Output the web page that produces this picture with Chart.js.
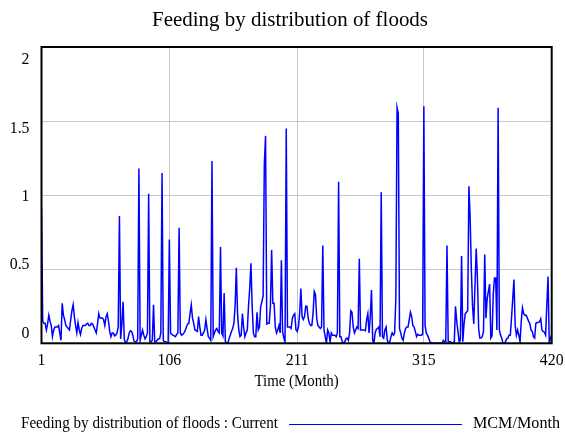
<!DOCTYPE html>
<html>
<head>
<meta charset="utf-8">
<script src="https://cdn.jsdelivr.net/npm/chart.js@4/dist/chart.umd.min.js"></script>
<style>
  html, body { margin: 0; padding: 0; background: #fff; }
  #contenedor { width: 565px; height: 437px; position: relative; }
</style>
</head>
<body>
<div id="contenedor"><canvas id="grafica_inundaciones"></canvas></div>
<script>
const titulo = "Feeding by distribution of floods";
const etiqueta_serie = "Feeding by distribution of floods : Current";
const unidades = "MCM/Month";
const titulo_x = "Time (Month)";
const ticks_x = [1, 106, 211, 315, 420];
const ticks_y = [2, 1.5, 1, 0.5, 0];

// meses 1..420
const meses = Array.from({ length: 420 }, (_, i) => i + 1);

// valores, 20 por renglon
const valores = [
  0.92, 0.15, 0.135, 0.135, 0.09, 0.13, 0.19, 0.15, 0.12, 0.045, 0.09, 0.11, 0.11, 0.11, 0.12, 0.07, 0.02, 0.27, 0.19, 0.16,
  0.12, 0.11, 0.10, 0.09, 0.16, 0.22, 0.26, 0.18, 0.12, 0.07, 0.14, 0.09, 0.06, 0.10, 0.12, 0.12, 0.12, 0.13, 0.135, 0.12,
  0.12, 0.135, 0.13, 0.11, 0.09, 0.07, 0.13, 0.20, 0.17, 0.17, 0.17, 0.16, 0.12, 0.18, 0.20, 0.15, 0.08, 0.045, 0.07, 0.07,
  0.05, 0.055, 0.07, 0.11, 0.86, 0.03, 0.13, 0.28, 0.03, 0.0, 0.01, 0.03, 0.07, 0.085, 0.08, 0.055, 0.015, 0.01, 0.01, 0.03,
  1.18, 0.02, 0.055, 0.09, 0.055, 0.03, 0.045, 0.07, 1.01, 0.01, 0.01, 0.02, 0.26, 0.01, 0.01, 0.02, 0.03, 0.03, 0.07, 1.15,
  0.02, 0.01, 0.01, 0.005, 0.0, 0.70, 0.07, 0.06, 0.055, 0.05, 0.045, 0.06, 0.07, 0.78, 0.07, 0.055, 0.06, 0.07, 0.085, 0.11,
  0.13, 0.135, 0.20, 0.26, 0.17, 0.135, 0.09, 0.085, 0.08, 0.18, 0.11, 0.055, 0.055, 0.07, 0.09, 0.16, 0.10, 0.045, 0.035, 0.02,
  1.23, 0.045, 0.07, 0.09, 0.10, 0.08, 0.07, 0.65, 0.07, 0.05, 0.34, 0.01, 0.005, 0.0, 0.03, 0.055, 0.08, 0.10, 0.135, 0.25,
  0.51, 0.20, 0.09, 0.045, 0.055, 0.20, 0.11, 0.045, 0.07, 0.09, 0.25, 0.37, 0.54, 0.25, 0.07, 0.045, 0.045, 0.21, 0.09, 0.11,
  0.25, 0.28, 0.32, 1.21, 1.40, 0.13, 0.135, 0.135, 0.25, 0.63, 0.27, 0.27, 0.11, 0.07, 0.09, 0.12, 0.07, 0.56, 0.08, 0.035,
  0.01, 1.45, 0.11, 0.11, 0.11, 0.10, 0.17, 0.19, 0.20, 0.09, 0.08, 0.11, 0.20, 0.37, 0.18, 0.16, 0.18, 0.25, 0.25, 0.17,
  0.135, 0.12, 0.12, 0.20, 0.35, 0.33, 0.17, 0.12, 0.11, 0.10, 0.11, 0.66, 0.09, 0.045, 0.0, 0.09, 0.07, 0.01, 0.07, 0.055,
  0.055, 0.055, 0.045, 0.07, 1.09, 0.045, 0.045, 0.01, 0.0, 0.01, 0.03, 0.035, 0.02, 0.07, 0.22, 0.21, 0.11, 0.07, 0.09, 0.11,
  0.10, 0.57, 0.09, 0.09, 0.09, 0.09, 0.085, 0.16, 0.20, 0.07, 0.18, 0.36, 0.02, 0.0, 0.07, 0.095, 0.10, 0.11, 0.045, 1.02,
  0.045, 0.035, 0.09, 0.11, 0.02, 0.0, 0.01, 0.045, 0.07, 0.055, 0.07, 0.30, 1.59, 1.55, 0.10, 0.07, 0.035, 0.02, 0.07, 0.10,
  0.11, 0.11, 0.16, 0.21, 0.18, 0.12, 0.11, 0.08, 0.045, 0.06, 0.055, 0.055, 0.055, 0.06, 1.60, 0.12, 0.07, 0.055, 0.035, 0.01,
  0.005, 0.0, 0.0, 0.0, 0.0, 0.0, 0.0, 0.0, 0.0, 0.0, 0.02, 0.01, 0.01, 0.66, 0.01, 0.01, 0.01, 0.0, 0.005, 0.01,
  0.25, 0.15, 0.08, 0.01, 0.02, 0.59, 0.01, 0.13, 0.20, 0.21, 0.22, 1.06, 0.85, 0.50, 0.25, 0.13, 0.39, 0.64, 0.44, 0.10,
  0.035, 0.035, 0.045, 0.08, 0.60, 0.17, 0.30, 0.35, 0.40, 0.035, 0.05, 0.33, 0.44, 0.44, 0.09, 1.59, 0.09, 0.055, 0.035, 0.0,
  0.0, 0.01, 0.03, 0.035, 0.055, 0.055, 0.17, 0.30, 0.43, 0.12, 0.055, 0.09, 0.055, 0.01, 0.15, 0.24, 0.20, 0.19, 0.19, 0.17,
  0.15, 0.135, 0.09, 0.08, 0.045, 0.035, 0.135, 0.14, 0.14, 0.145, 0.165, 0.09, 0.08, 0.075, 0.055, 0.26, 0.45, 0.0, 0.035, 0.055,
];

const fuente = "'Liberation Serif', 'Times New Roman', serif";
const azul = "#0000ff";

function texto(ctx, t, x, y, size, escala, align) {
  ctx.save();
  ctx.font = size + "px " + fuente;
  ctx.fillStyle = "#000";
  ctx.textBaseline = "middle";
  ctx.textAlign = align;
  ctx.translate(x, y);
  ctx.scale(escala, 1);
  ctx.fillText(t, 0, 0);
  ctx.restore();
}

function escalaPara(ctx, t, size, anchoDeseado) {
  ctx.font = size + "px " + fuente;
  return anchoDeseado / ctx.measureText(t).width;
}

// textos y marco al estilo Vensim
const textos_vensim = {
  id: "textos_vensim",
  afterDraw(chart) {
    const ctx = chart.ctx;
    const a = chart.chartArea;
    const sx = chart.scales.x;

    ctx.save();
    ctx.strokeStyle = "#000";
    ctx.lineWidth = 2;
    ctx.strokeRect(a.left, a.top, a.right - a.left, a.bottom - a.top);
    ctx.restore();

    // titulo
    texto(ctx, titulo, 290, 21, 20, escalaPara(ctx, titulo, 20, 276), "center");

    // etiquetas eje y (repartidas como en Vensim)
    const paso = (a.bottom - a.top - 23) / (ticks_y.length - 1);
    ticks_y.forEach((v, i) => {
      texto(ctx, String(v), 29.5, a.top + 13 + i * paso, 17, 0.93, "right");
    });

    // etiquetas eje x
    ticks_x.forEach((v) => {
      texto(ctx, String(v), sx.getPixelForValue(v), a.bottom + 17, 17, 0.93, "center");
    });
    texto(ctx, titulo_x, (a.left + a.right) / 2, 382, 16, 0.93, "center");

    // leyenda
    texto(ctx, etiqueta_serie, 21, 424, 16, escalaPara(ctx, etiqueta_serie, 16, 257), "left");
    ctx.save();
    ctx.strokeStyle = azul;
    ctx.lineWidth = 1;
    ctx.beginPath();
    ctx.moveTo(289, 424.5);
    ctx.lineTo(462, 424.5);
    ctx.stroke();
    ctx.restore();
    texto(ctx, unidades, 473, 424, 16, escalaPara(ctx, unidades, 16, 87), "left");
  },
};

const ctx1 = document.getElementById("grafica_inundaciones").getContext("2d");

let grafica = new Chart(ctx1, {
  type: "line",
  data: {
    datasets: [
      {
        label: etiqueta_serie,
        data: meses.map((m, i) => ({ x: m, y: valores[i] })),
        borderColor: azul,
        borderWidth: 1.5,
        pointRadius: 0,
        tension: 0,
        fill: false,
      },
    ],
  },
  options: {
    responsive: true,
    maintainAspectRatio: false,
    animation: false,
    layout: { padding: { left: 41.5, top: 47, right: 13.3, bottom: 93.7 } },
    plugins: {
      legend: { display: false },
      title: { display: false },
      tooltip: { enabled: false },
    },
    scales: {
      x: {
        type: "linear",
        min: 1,
        max: 420,
        afterBuildTicks: (s) => { s.ticks = ticks_x.map((v) => ({ value: v })); },
        afterFit: (s) => { s.height = 0; },
        ticks: { display: false },
        grid: { color: "#c8c8c8", lineWidth: 1, drawTicks: false },
        border: { display: false },
      },
      y: {
        min: 0,
        max: 2,
        afterBuildTicks: (s) => { s.ticks = ticks_y.map((v) => ({ value: v })); },
        afterFit: (s) => { s.width = 0; },
        ticks: { display: false },
        grid: { color: "#c8c8c8", lineWidth: 1, drawTicks: false },
        border: { display: false },
      },
    },
  },
  plugins: [textos_vensim],
});
</script>
</body>
</html>
